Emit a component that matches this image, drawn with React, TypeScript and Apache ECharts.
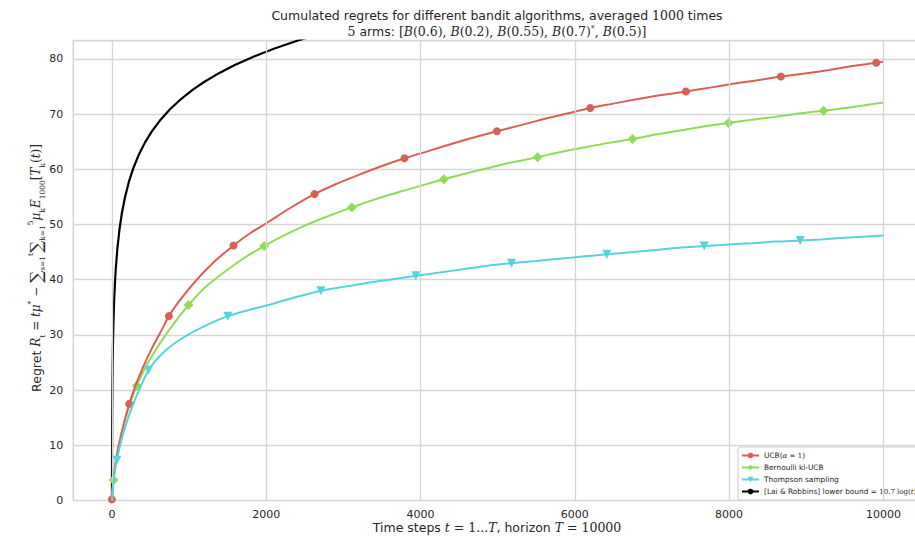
import React, { useEffect, useRef } from "react";
import * as echarts from "echarts";

// ---- Data ----
const tUCB = [0, 25, 50, 90, 150, 224, 300, 400, 520, 650, 739, 900, 1100, 1330, 1577, 1800, 2000, 2300, 2626, 2900, 3200, 3500, 3793, 4100, 4400, 4700, 4990, 5300, 5600, 5900, 6200, 6500, 6800, 7100, 7440, 7750, 8050, 8350, 8671, 9000, 9300, 9600, 9907, 10000];
const vUCB = [0.2, 4.5, 7, 10, 13.6, 17.5, 20.6, 24, 27.6, 31, 33.4, 36.6, 40, 43.3, 46.2, 48.5, 50.2, 52.9, 55.5, 57.3, 59, 60.6, 62, 63.3, 64.6, 65.8, 66.9, 68, 69.1, 70.1, 71.1, 71.9, 72.7, 73.4, 74.1, 74.8, 75.5, 76.1, 76.8, 77.4, 78, 78.7, 79.3, 79.5];
const mkUCB = [0, 224, 739, 1577, 2626, 3793, 4990, 6200, 7440, 8671, 9907];

const tKL = [0, 21, 60, 120, 200, 324, 450, 600, 800, 993, 1200, 1450, 1700, 1974, 2200, 2500, 2800, 3111, 3400, 3700, 4000, 4303, 4600, 4900, 5200, 5517, 5800, 6100, 6400, 6748, 7050, 7350, 7650, 7992, 8300, 8600, 8900, 9224, 9600, 10000];
const vKL = [0, 3.7, 8, 12, 16, 20.8, 24.5, 28, 32, 35.4, 38.5, 41.3, 43.8, 46.1, 47.8, 49.8, 51.5, 53.1, 54.5, 55.8, 57, 58.2, 59.3, 60.3, 61.3, 62.2, 63.1, 63.9, 64.7, 65.5, 66.3, 67, 67.7, 68.4, 69, 69.5, 70.1, 70.6, 71.3, 72.1];
const mkKL = [21, 324, 993, 1974, 3111, 4303, 5517, 6748, 7992, 9224];

const tTS = [0, 30, 65, 120, 200, 300, 475, 650, 900, 1200, 1503, 1800, 2100, 2400, 2709, 3000, 3300, 3600, 3940, 4250, 4550, 4850, 5180, 5500, 5800, 6100, 6415, 6750, 7050, 7350, 7677, 8000, 8300, 8600, 8921, 9200, 9500, 10000];
const vTS = [0, 4.5, 7.3, 10.8, 14.5, 18.3, 23.6, 26.6, 29.3, 31.6, 33.4, 34.6, 35.7, 36.9, 38, 38.7, 39.4, 40, 40.7, 41.3, 41.9, 42.5, 43, 43.4, 43.8, 44.2, 44.6, 45, 45.4, 45.8, 46.1, 46.4, 46.6, 46.9, 47.1, 47.3, 47.6, 48];
const mkTS = [65, 475, 1503, 2709, 3940, 5180, 6415, 7677, 8921];

const tLB = [1, 2, 3, 4, 5, 7, 10, 15, 20, 30, 40, 50, 70, 100, 130, 170, 220, 280, 350, 430, 520, 620, 750, 900, 1050, 1200, 1400, 1600, 1850, 2100, 2400, 2700];
const vLB = [0, 7.42, 11.76, 14.83, 17.22, 20.82, 24.64, 28.98, 32.05, 36.39, 39.47, 41.86, 45.46, 49.28, 52.08, 54.95, 57.71, 60.29, 62.68, 64.88, 66.91, 68.79, 70.83, 72.78, 74.43, 75.86, 77.51, 78.94, 80.49, 81.85, 83.28, 84.54];

const seriesNames = [
  "UCB(α = 1)",
  "Bernoulli kl-UCB",
  "Thompson sampling",
  "[Lai & Robbins] lower bound = 10.7 log(t)",
];
const xTicks = [0, 2000, 4000, 6000, 8000, 10000];
const yTicks = [0, 10, 20, 30, 40, 50, 60, 70, 80];

const RED = "#db5f57";
const GREEN = "#91db57";
const CYAN = "#57d3db";
const TXT = "#262626";
const GRID = "#d6d6d6";
const SERIF = "DejaVu Serif";
const SANS = "DejaVu Sans";

function build(t: number[], v: number[], marks: number[], sym: string) {
  return t.map((x, i) => ({
    value: [x, v[i]],
    symbol: marks.includes(x) ? sym : "none",
  }));
}

export default function App() {
  const ref = useRef<HTMLDivElement>(null);
  useEffect(() => {
    if (!ref.current) return;
    const chart = echarts.init(ref.current, null, { renderer: "svg" });
    const mathRich = {
      i: { fontFamily: SERIF, fontStyle: "italic", fontSize: 12.5, fill: TXT },
      m: { fontFamily: SERIF, fontSize: 12.5, fill: TXT },
      p: { fontFamily: SERIF, fontSize: 8, verticalAlign: "top", lineHeight: 8, fill: TXT },
    };
    const yRich: any = {
      t: { fontFamily: SANS, fontSize: 12.5, lineHeight: 20, fill: TXT },
      i: { fontFamily: SERIF, fontStyle: "italic", fontSize: 12, lineHeight: 20, fill: TXT },
      m: { fontFamily: SERIF, fontSize: 12, lineHeight: 20, fill: TXT },
      s: { fontFamily: SERIF, fontSize: 7.5, lineHeight: 11, verticalAlign: "bottom", fill: TXT },
      p: { fontFamily: SERIF, fontSize: 7.5, lineHeight: 11, verticalAlign: "top", fill: TXT },
      b: { fontFamily: SERIF, fontSize: 17, lineHeight: 20, fill: TXT },
    };
    chart.setOption({
      animation: false,
      backgroundColor: "#ffffff",
      grid: { left: 73.3, top: 40.7, right: 0, bottom: 36.5, show: true, borderColor: "#cccccc", borderWidth: 1.2, containLabel: false },
      xAxis: {
        type: "value",
        min: -500,
        max: 10500,
        interval: 500,
        axisLine: { show: false },
        axisTick: { show: false },
        axisLabel: {
          color: TXT, fontFamily: SANS, fontSize: 11, margin: 8,
          showMinLabel: false, showMaxLabel: false,
          formatter: (val: number) => (xTicks.includes(val) ? String(val) : ""),
        },
        splitLine: { show: false },
      },
      yAxis: {
        type: "value",
        min: 0,
        max: 83.3,
        interval: 10,
        axisLine: { show: false },
        axisTick: { show: false },
        axisLabel: {
          color: TXT, fontFamily: SANS, fontSize: 11, margin: 10,
          showMaxLabel: false,
          formatter: (val: number) => (yTicks.includes(val) ? String(val) : ""),
        },
        splitLine: { show: true, lineStyle: { color: GRID, width: 1.3 } },
      },
      legend: {
        orient: "vertical",
        left: 738,
        top: 447,
        itemWidth: 17,
        itemHeight: 7,
        itemGap: 3,
        padding: [4, 5, 4, 3],
        borderColor: "#cccccc",
        borderWidth: 1,
        borderRadius: 2,
        backgroundColor: "rgba(255,255,255,0.85)",
        data: seriesNames,
        textStyle: {
          color: TXT, fontFamily: SANS, fontSize: 7.4, lineHeight: 9,
          rich: {
            m: { fontFamily: SERIF, fontSize: 7, color: TXT },
            i: { fontFamily: SERIF, fontSize: 7, fontStyle: "italic", color: TXT },
          },
        },
        formatter: (name: string) => {
          if (name === seriesNames[0]) return "UCB({i|α} {m|= 1})";
          if (name === seriesNames[3]) return "[Lai & Robbins] lower bound = {m|10.7 log(}{i|t}{m|)}";
          return name;
        },
      },
      series: [
        {
          name: "grid-x", type: "line", data: [], z: 1, silent: true,
          markLine: {
            silent: true, symbol: ["none", "none"], label: { show: false },
            lineStyle: { color: GRID, width: 1.3, type: "solid" },
            data: xTicks.map((x) => ({ xAxis: x })),
          },
        },
        {
          name: seriesNames[0], type: "line", smooth: 0.25,
          symbol: "circle", symbolSize: 8, showSymbol: true,
          lineStyle: { color: RED, width: 2 }, itemStyle: { color: RED },
          data: build(tUCB, vUCB, mkUCB, "circle"), z: 4,
        },
        {
          name: seriesNames[1], type: "line", smooth: 0.25,
          symbol: "diamond", symbolSize: 10, showSymbol: true,
          lineStyle: { color: GREEN, width: 2 }, itemStyle: { color: GREEN },
          data: build(tKL, vKL, mkKL, "diamond"), z: 3,
        },
        {
          name: seriesNames[2], type: "line", smooth: 0.25,
          symbol: "triangle", symbolRotate: 180, symbolSize: 9, showSymbol: true,
          lineStyle: { color: CYAN, width: 2 }, itemStyle: { color: CYAN },
          data: build(tTS, vTS, mkTS, "triangle"), z: 5,
        },
        {
          name: seriesNames[3], type: "line", smooth: false,
          symbol: "none", showSymbol: false, clip: true,
          lineStyle: { color: "#000000", width: 2.2 }, itemStyle: { color: "#000000" },
          data: tLB.map((x, i) => [x, vLB[i]]), z: 2,
        },
      ],
      graphic: [
        {
          type: "text", x: 497, y: 15,
          style: {
            text: "Cumulated regrets for different bandit algorithms, averaged {m|1000} times",
            fontFamily: SANS, fontSize: 12.5, fill: TXT, align: "center", verticalAlign: "middle", rich: mathRich,
          },
        },
        {
          type: "text", x: 497, y: 31,
          style: {
            text: "{m|5} arms: {m|[}{i|B}{m|(0.6),} {i|B}{m|(0.2),} {i|B}{m|(0.55),} {i|B}{m|(0.7)}{p|*}{m|,} {i|B}{m|(0.5)]}",
            fontFamily: SANS, fontSize: 12.5, fill: TXT, align: "center", verticalAlign: "middle", rich: mathRich,
          },
        },
        {
          type: "text", x: 497, y: 527,
          style: {
            text: "Time steps {i|t}{m| = 1...}{i|T}, horizon {i|T}{m| = 10000}",
            fontFamily: SANS, fontSize: 12.5, fill: TXT, align: "center", verticalAlign: "middle", rich: mathRich,
          },
        },
        {
          type: "text", x: 36, y: 268, rotation: Math.PI / 2,
          style: {
            text: "{t|Regret }{i|R}{s|t}{m| = }{i|tμ}{p|*}{m| − }{b|∑}{s|s=1}{p|t}{b|∑}{s|k=1}{p|5}{i|μ}{s|k}{i|E}{s|1000}{m|[}{i|T}{s|k}{m|(}{i|t}{m|)]}",
            fontFamily: SANS, fontSize: 12, fill: TXT, align: "center", verticalAlign: "middle", rich: yRich,
          },
        },
      ],
    });
    return () => chart.dispose();
  }, []);
  return (
    <div style={{ position: "fixed", left: 0, top: 0, width: 915, height: 537, overflow: "hidden", background: "#fff" }}>
      <div ref={ref} style={{ width: 922, height: 537 }} />
    </div>
  );
}
